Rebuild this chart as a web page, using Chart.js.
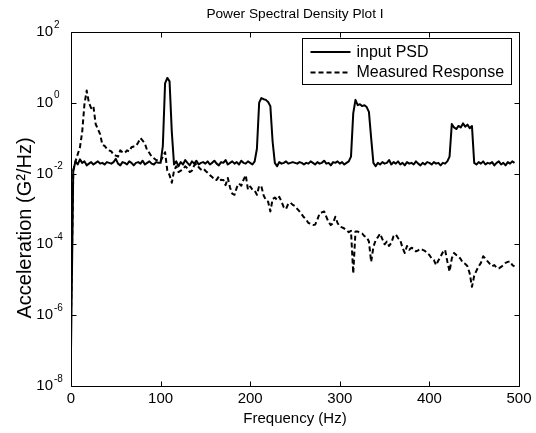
<!DOCTYPE html>
<html>
<head>
<meta charset="utf-8">
<script src="https://cdn.jsdelivr.net/npm/chart.js@4.4.1/dist/chart.umd.min.js"></script>
<style>
html,body{margin:0;padding:0;background:#fff;}
canvas{display:block;}
</style>
</head>
<body>
<canvas id="c" width="536" height="433"></canvas>
<script>
// ---- data ----
const frequency = [
  0,2.5,5,7.5,10,12.5,15,17.5,20,22.5,25,27.5,30,32.5,35,37.5,40,42.5,45,47.5,
  50,52.5,55,57.5,60,62.5,65,67.5,70,72.5,75,77.5,80,82.5,85,87.5,90,92.5,95,97.5,
  100,102.5,105,107.5,110,112.5,115,117.5,120,122.5,125,127.5,130,132.5,135,137.5,140,142.5,145,147.5,
  150,152.5,155,157.5,160,162.5,165,167.5,170,172.5,175,177.5,180,182.5,185,187.5,190,192.5,195,197.5,
  200,202.5,205,207.5,210,212.5,215,217.5,220,222.5,225,227.5,230,232.5,235,237.5,240,242.5,245,247.5,
  250,252.5,255,257.5,260,262.5,265,267.5,270,272.5,275,277.5,280,282.5,285,287.5,290,292.5,295,297.5,
  300,302.5,305,307.5,310,312.5,315,317.5,320,322.5,325,327.5,330,332.5,335,337.5,340,342.5,345,347.5,
  350,352.5,355,357.5,360,362.5,365,367.5,370,372.5,375,377.5,380,382.5,385,387.5,390,392.5,395,397.5,
  400,402.5,405,407.5,410,412.5,415,417.5,420,422.5,425,427.5,430,432.5,435,437.5,440,442.5,445,447.5,
  450,452.5,455,457.5,460,462.5,465,467.5,470,472.5,475,477.5,480,482.5,485,487.5,490,492.5,495
];
const inputPSD = [
  1e-7,0.012,0.022,0.018,0.025,0.02,0.022,0.017,0.019,0.021,0.018,0.02,0.022,0.019,0.02,0.018,0.021,0.02,0.019,0.021,
  0.026,0.019,0.017,0.021,0.02,0.018,0.022,0.02,0.017,0.02,0.021,0.019,0.023,0.018,0.02,0.022,0.019,0.018,0.021,0.02,
  0.02,0.06,3.5,5.0,4.0,0.15,0.018,0.022,0.016,0.021,0.018,0.024,0.02,0.017,0.022,0.019,0.023,0.018,0.02,0.021,
  0.019,0.022,0.018,0.02,0.023,0.019,0.017,0.021,0.02,0.024,0.018,0.02,0.022,0.019,0.021,0.018,0.023,0.02,0.019,0.022,
  0.02,0.018,0.022,0.05,1.0,1.35,1.25,1.2,1.05,0.8,0.08,0.02,0.016,0.021,0.019,0.02,0.022,0.019,0.02,0.021,
  0.02,0.019,0.021,0.02,0.018,0.02,0.019,0.022,0.02,0.018,0.021,0.019,0.02,0.023,0.019,0.02,0.017,0.021,0.02,0.022,
  0.019,0.021,0.018,0.02,0.022,0.03,0.5,1.2,0.85,0.9,0.8,0.85,0.75,0.55,0.1,0.02,0.016,0.02,0.018,0.021,
  0.019,0.02,0.024,0.018,0.021,0.019,0.022,0.018,0.02,0.017,0.021,0.019,0.02,0.018,0.022,0.019,0.017,0.02,0.018,0.021,
  0.02,0.018,0.021,0.019,0.02,0.017,0.02,0.019,0.022,0.03,0.25,0.2,0.18,0.22,0.2,0.26,0.21,0.24,0.19,0.22,
  0.02,0.018,0.021,0.019,0.022,0.018,0.02,0.019,0.021,0.017,0.02,0.022,0.018,0.02,0.017,0.021,0.019,0.022,0.02
];
const measuredResponse = [
  1e-6,0.012,0.022,0.035,0.055,0.15,0.9,2.2,1.0,0.7,0.8,0.25,0.18,0.13,0.065,0.06,0.05,0.045,0.042,0.034,
  0.032,0.03,0.045,0.04,0.038,0.045,0.042,0.055,0.058,0.06,0.075,0.1,0.085,0.07,0.045,0.038,0.03,0.027,0.024,0.023,
  0.022,0.03,0.04,0.012,0.009,0.0055,0.012,0.016,0.011,0.012,0.013,0.016,0.014,0.011,0.012,0.017,0.019,0.015,0.013,0.014,
  0.012,0.0105,0.009,0.008,0.0066,0.0066,0.0082,0.0065,0.0066,0.0047,0.0075,0.004,0.0027,0.0025,0.004,0.0052,0.0045,0.0066,0.009,0.0035,
  0.0043,0.0035,0.0033,0.0025,0.0045,0.0043,0.0024,0.0018,0.0016,0.00085,0.0019,0.0021,0.0018,0.0022,0.0016,0.0011,0.001,0.0014,0.0015,0.0013,
  0.0012,0.001,0.00085,0.0007,0.00058,0.0005,0.0004,0.00038,0.00035,0.00036,0.0005,0.00075,0.0008,0.00085,0.0006,0.00042,0.00035,0.0004,0.0006,0.0004,
  0.00032,0.0003,0.00028,0.00025,0.00022,0.00024,1.5e-5,0.00023,0.00023,0.00021,0.0002,0.00017,0.00016,0.00012,3.2e-5,8.5e-5,0.00013,0.00016,0.0002,0.00014,
  0.0001,0.00012,9e-5,0.00011,0.00017,0.00019,0.00015,0.00013,8e-5,5.7e-5,9e-5,7e-5,8e-5,7.5e-5,6.3e-5,6.8e-5,7.5e-5,7e-5,6.5e-5,5.7e-5,
  5e-5,4e-5,3.6e-5,2.6e-5,3.5e-5,4.5e-5,6e-5,7e-5,3.3e-5,1.7e-5,4e-5,5.7e-5,5e-5,4.6e-5,3.8e-5,3e-5,2.8e-5,2.4e-5,1.5e-5,6.3e-6,
  1.3e-5,1.8e-5,2.4e-5,3e-5,4.6e-5,4e-5,3.3e-5,2.8e-5,2.4e-5,2.6e-5,2.2e-5,2.1e-5,2.3e-5,2.6e-5,3e-5,3.2e-5,3.3e-5,2.6e-5,2.4e-5
];
const xTickValues = [0, 100, 200, 300, 400, 500];
const yTickValues = [1e-8, 1e-6, 1e-4, 1e-2, 1e0, 1e2];
const yTickBase = '10';
const yTickExponents = ['-8', '-6', '-4', '-2', '0', '2'];
const seriesNames = ['input PSD', 'Measured Response'];
const chartTitle = 'Power Spectral Density Plot I';
const xTitle = 'Frequency (Hz)';
const yTitle = 'Acceleration (G\u00B2/Hz)';

// ---- rendering ----
const FONT = "'Liberation Sans', Arial, Helvetica, sans-serif";
const toXY = (vals) => frequency.map((f, i) => ({ x: f, y: vals[i] }));

const framePlugin = {
  id: 'frame',
  afterDraw(chart) {
    const { ctx, chartArea: a, scales } = chart;
    ctx.save();
    ctx.strokeStyle = '#000';
    ctx.lineWidth = 1;
    ctx.beginPath();
    const L = Math.round(a.left) + 0.5, R = Math.round(a.right) + 0.5;
    const T = Math.round(a.top) + 0.5, B = Math.round(a.bottom) + 0.5;
    ctx.rect(L, T, R - L, B - T);
    const tl = 5;
    xTickValues.forEach(v => {
      const px = Math.round(scales.x.getPixelForValue(v)) + 0.5;
      ctx.moveTo(px, B); ctx.lineTo(px, B - tl);
      ctx.moveTo(px, T); ctx.lineTo(px, T + tl);
    });
    yTickValues.forEach(v => {
      const py = Math.round(scales.y.getPixelForValue(v)) + 0.5;
      ctx.moveTo(L, py); ctx.lineTo(L + tl, py);
      ctx.moveTo(R, py); ctx.lineTo(R - tl, py);
    });
    ctx.stroke();

    // exponents of the y tick labels (raised, smaller)
    ctx.fillStyle = '#000';
    ctx.font = '10px ' + FONT;
    ctx.textAlign = 'left';
    ctx.textBaseline = 'middle';
    yTickValues.forEach((v, i) => {
      const py = scales.y.getPixelForValue(v);
      ctx.fillText(yTickExponents[i], 54, py - 7);
    });

    // y axis title
    ctx.save();
    ctx.translate(25, 228);
    ctx.rotate(-Math.PI / 2);
    ctx.font = '20px ' + FONT;
    ctx.textAlign = 'center';
    ctx.textBaseline = 'middle';
    ctx.fillText(yTitle, 0, 0);
    ctx.restore();

    // legend box (inside top-right)
    const bx = 302.5, by = 38.5, bw = 209, bh = 46;
    ctx.fillStyle = '#fff';
    ctx.fillRect(bx, by, bw, bh);
    ctx.strokeRect(bx, by, bw, bh);
    chart.data.datasets.forEach((ds, i) => {
      const ly = by + 13.5 + i * 20.5;
      ctx.beginPath();
      ctx.lineWidth = 2;
      ctx.setLineDash(ds.borderDash || []);
      ctx.moveTo(bx + 8, ly); ctx.lineTo(bx + 48, ly);
      ctx.stroke();
      ctx.setLineDash([]);
      ctx.fillStyle = '#000';
      ctx.font = '16px ' + FONT;
      ctx.textBaseline = 'middle';
      ctx.textAlign = 'left';
      ctx.fillText(ds.label, bx + 54, ly + 0.5);
    });
    ctx.restore();
  }
};

new Chart(document.getElementById('c'), {
  type: 'line',
  data: {
    datasets: [
      { label: seriesNames[0], data: toXY(inputPSD), borderColor: '#000', borderWidth: 2,
        pointRadius: 0, tension: 0, fill: false, borderJoinStyle: 'round' },
      { label: seriesNames[1], data: toXY(measuredResponse), borderColor: '#000', borderWidth: 2,
        borderDash: [5, 3], pointRadius: 0, tension: 0, fill: false, borderJoinStyle: 'round' }
    ]
  },
  options: {
    responsive: false,
    animation: false,
    devicePixelRatio: 1,
    layout: { padding: { left: 0, right: 17, top: 0, bottom: 0 } },
    plugins: {
      legend: { display: false },
      tooltip: { enabled: false },
      title: { display: true, text: chartTitle, color: '#000', fullSize: false,
        font: { family: FONT, size: 13.7, weight: 'normal' }, padding: { top: 6, bottom: 9.4 } }
    },
    scales: {
      x: {
        type: 'linear', min: 0, max: 500,
        afterBuildTicks: s => { s.ticks = xTickValues.map(v => ({ value: v })); },
        afterFit: s => { s.height = 47; },
        grid: { display: false, drawTicks: false }, border: { display: false },
        ticks: { color: '#000', font: { family: FONT, size: 15 }, padding: 4, maxRotation: 0 },
        title: { display: true, text: xTitle, color: '#000', font: { family: FONT, size: 15 },
          padding: { top: 0, bottom: 5 } }
      },
      y: {
        type: 'logarithmic', min: 1e-8, max: 1e2,
        afterBuildTicks: s => { s.ticks = yTickValues.map(v => ({ value: v })); },
        afterFit: s => { s.width = 71; },
        grid: { display: false, drawTicks: false }, border: { display: false },
        ticks: { color: '#000', font: { family: FONT, size: 15 }, padding: 18,
          callback: () => yTickBase }
      }
    }
  },
  plugins: [framePlugin]
});
</script>
</body>
</html>
